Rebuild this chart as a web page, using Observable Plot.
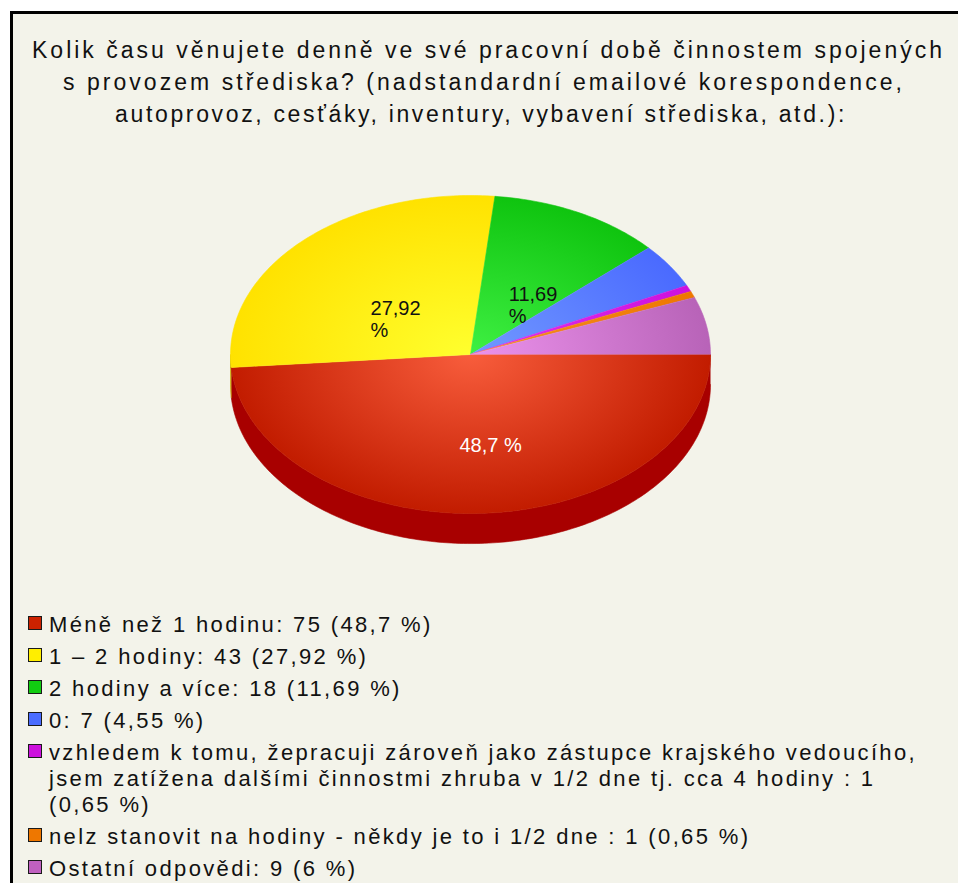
<!DOCTYPE html>
<html><head><meta charset="utf-8">
<script src="https://cdn.jsdelivr.net/npm/d3@7"></script>
<script src="https://cdn.jsdelivr.net/npm/@observablehq/plot@0.6"></script>
<style>
html,body{margin:0;padding:0;background:#fff;}
body{width:958px;height:883px;overflow:hidden;position:relative;font-family:"Liberation Sans",Arial,sans-serif;}
#frame{position:absolute;left:10px;top:11px;width:960px;height:900px;border-left:3px solid #000;border-top:3px solid #000;background:#f3f3ea;}
.tl{position:absolute;white-space:nowrap;font-size:23px;line-height:32px;color:#111;}
#chart{position:absolute;left:0;top:170px;}
#legend{position:absolute;left:28px;top:612px;font-size:22px;color:#111;}
.item{display:flex;align-items:flex-start;margin-bottom:6px;}
.sw{width:12px;height:12px;border:1.5px solid #1a1a1a;margin-top:4px;flex:none;}
.lab{margin-left:7px;line-height:26px;width:876px;}
</style>
</head><body>
<div id="frame"></div>
<div id="titlebox"></div>
<div id="chart"></div>
<div id="legend"></div>
<script>
// ---- data ----
const titleLines = [
  "Kolik času věnujete denně ve své pracovní době činnostem spojených",
  "s provozem střediska? (nadstandardní emailové korespondence,",
  "autoprovoz, cesťáky, inventury, vybavení střediska, atd.):"
];
const categories = [
  "Méně než 1 hodinu",
  "1 – 2 hodiny",
  "2 hodiny a více",
  "0",
  "vzhledem k tomu, žepracuji zároveň jako zástupce krajského vedoucího, jsem zatížena dalšími činnostmi zhruba v 1/2 dne tj. cca 4 hodiny ",
  "nelz stanovit na hodiny - někdy je to i 1/2 dne ",
  "Ostatní odpovědi"
];
const counts = [75, 43, 18, 7, 1, 1, 9];
const percents = ["48,7", "27,92", "11,69", "4,55", "0,65", "0,65", "6"];
const sliceLabels = ["48,7 %", "27,92\n%", "11,69\n%", "", "", "", ""];
const topInner = ["#f85d3c", "#ffff2e", "#3ff043", "#7299ff", "#e030f0", "#f59020", "#ec92ec"];
const topOuter = ["#c21c00", "#ffe200", "#0fc40f", "#4a6aff", "#cc11dd", "#ee7700", "#b863b8"];
const sideColors = ["#a80000", "#c9b200", "#0a9a0a", "#3550cc", "#a010b0", "#c05f00", "#955095"];
const legendColors = ["#cc2200", "#ffee00", "#11cc11", "#4a6cff", "#cc11dd", "#ee7700", "#c060c0"];
const labelColors = ["#ffffff", "#111111", "#111111", "#111111", "#111111", "#111111", "#111111"];

// ---- layout constants ----
const titleStarts = [32, 63, 115], titleWidths = [913, 842, 732], titleTops = [34, 66, 98];
const depth = 0.189; // side thickness in y-data units

// ---- measuring helper ----
const ctx = document.createElement("canvas").getContext("2d");
function spacingFor(text, font, target) {
  ctx.font = font;
  const w = ctx.measureText(text).width;
  return (target - w) / [...text].length;
}

// ---- title ----
const tb = document.getElementById("titlebox");
titleLines.forEach((t, i) => {
  const d = document.createElement("div");
  d.className = "tl";
  d.textContent = t;
  d.style.left = titleStarts[i] + "px";
  d.style.top = titleTops[i] + "px";
  d.style.letterSpacing = spacingFor(t, '23px "Liberation Sans"', titleWidths[i]) + "px";
  tb.appendChild(d);
});

// ---- pie geometry from data ----
const total = d3.sum(counts);
let acc = 0;
const slices = counts.map((c, i) => {
  const a0 = acc / total * 2 * Math.PI;
  acc += c;
  const a1 = acc / total * 2 * Math.PI;
  return {i, a0, a1};
});
function arcPts(a0, a1) {
  const n = Math.max(2, Math.ceil((a1 - a0) / (Math.PI / 180)));
  return d3.range(n + 1).map(k => a0 + (a1 - a0) * k / n);
}
const sides = [], tops = [];
slices.forEach(s => {
  const b0 = Math.max(s.a0, 0), b1 = Math.min(s.a1, Math.PI);
  if (b1 > b0) {
    const pts = arcPts(b0, b1);
    pts.forEach(t => sides.push({key: "s" + s.i, x: Math.cos(t), y: Math.sin(t), fill: sideColors[s.i]}));
    pts.slice().reverse().forEach(t => sides.push({key: "s" + s.i, x: Math.cos(t), y: Math.sin(t) + depth, fill: sideColors[s.i]}));
  }
  tops.push({key: "t" + s.i, x: 0, y: 0, fill: `url(#gTop${s.i})`});
  arcPts(s.a0, s.a1).forEach(t => tops.push({key: "t" + s.i, x: Math.cos(t), y: Math.sin(t), fill: `url(#gTop${s.i})`}));
});
const labels = slices.filter(s => sliceLabels[s.i]).map(s => {
  const m = (s.a0 + s.a1) / 2;
  return {x: 0.5 * Math.cos(m), y: 0.5 * Math.sin(m), text: sliceLabels[s.i], fill: labelColors[s.i]};
});

const chart = Plot.plot({
  width: 958, height: 400, margin: 0,
  x: {domain: [-1, 1], range: [230, 710], axis: null},
  y: {domain: [-1, 1], range: [25, 343], axis: null},
  color: {type: "identity"},
  style: {background: "transparent", fontFamily: '"Liberation Sans", Arial, sans-serif'},
  marks: [
    Plot.line(sides, {x: "x", y: "y", z: "key", fill: "fill", stroke: "fill", strokeWidth: 0.6}),
    Plot.line(tops, {x: "x", y: "y", z: "key", fill: "fill", stroke: "fill", strokeWidth: 0.6}),
    Plot.text(labels, {x: "x", y: "y", text: "text", fill: "fill", textAnchor: "start", lineAnchor: "top", dx: -16, dy: 2, fontSize: 20, lineHeight: 1.1})
  ]
});
// radial gradients centred on the pie centre
const xs = chart.scale("x"), ys = chart.scale("y");
const cx = xs.apply(0), cy = ys.apply(0), rx = xs.apply(1) - cx, ry = ys.apply(1) - cy;
const defs = d3.select(chart).insert("defs", ":first-child");
slices.forEach(s => {
  const g = defs.append("radialGradient").attr("id", "gTop" + s.i)
    .attr("gradientUnits", "userSpaceOnUse").attr("cx", cx).attr("cy", cy).attr("r", rx)
    .attr("gradientTransform", `translate(${cx},${cy}) scale(1,${ry / rx}) translate(${-cx},${-cy})`);
  g.append("stop").attr("offset", 0).attr("stop-color", topInner[s.i]);
  g.append("stop").attr("offset", 1).attr("stop-color", topOuter[s.i]);
});
document.getElementById("chart").appendChild(chart);

// ---- legend ----
const lg = document.getElementById("legend");
const legendFont = '22px "Liberation Sans"';
const ls = spacingFor("vzhledem k tomu, žepracuji zároveň jako zástupce krajského vedoucího,", legendFont, 868);
categories.forEach((c, i) => {
  const it = document.createElement("div");
  it.className = "item";
  const sw = document.createElement("div");
  sw.className = "sw";
  sw.style.background = legendColors[i];
  const lab = document.createElement("div");
  lab.className = "lab";
  lab.style.letterSpacing = ls + "px";
  lab.textContent = `${c}: ${counts[i]} (${percents[i]} %)`;
  it.appendChild(sw); it.appendChild(lab);
  lg.appendChild(it);
});
</script>
</body></html>
